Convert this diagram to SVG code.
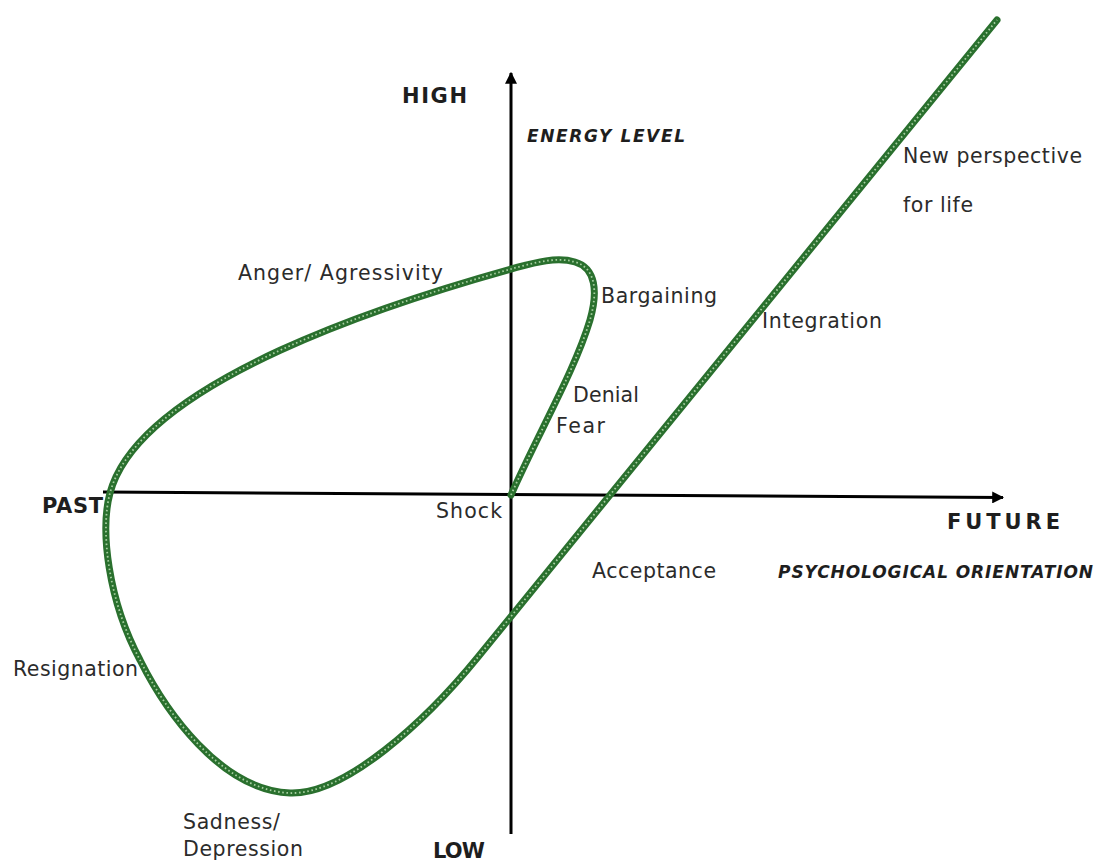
<svg xmlns="http://www.w3.org/2000/svg" width="1095" height="861" viewBox="0 0 1095 861">
  <style>
    .lbl { font-family: "DejaVu Sans", Verdana, sans-serif; font-size: 20.5px; fill: #2b2b2b; }
    .axis-lbl { font-family: "DejaVu Sans", Verdana, sans-serif; font-size: 21px; font-weight: bold; fill: #1e1e1e; }
    .axis-title { font-family: "DejaVu Sans", Verdana, sans-serif; font-size: 17px; font-weight: bold; font-style: italic; fill: #1e1e1e; }
    .axis { stroke: #000; stroke-width: 3; fill: none; }
    .curve-base { stroke: #2a702e; stroke-width: 7; fill: none; stroke-linecap: round; stroke-linejoin: round; }
    .curve-dots { stroke: #a6cfa0; stroke-width: 1.8; fill: none; stroke-dasharray: 1.6 2.6; }
  </style>
  <defs>
    <marker id="arrow" viewBox="0 0 10 10" refX="9" refY="5" markerWidth="4" markerHeight="4" orient="auto" markerUnits="strokeWidth">
      <path d="M0,0 L10,5 L0,10 Z" fill="#000"/>
    </marker>
  </defs>
  <rect width="1095" height="861" fill="#fff"/>

  <!-- axes -->
  <g id="connectors">
    <line id="energy-axis" class="axis" x1="511" y1="834" x2="511" y2="73" marker-end="url(#arrow)"/>
    <line id="orientation-axis" class="axis" x1="103" y1="492" x2="1003" y2="497.5" marker-end="url(#arrow)"/>
  </g>

  <!-- grief curve: shock, up through denial/bargaining, loop back via anger and depression, then out to the future -->
  <g id="curve">
    <path id="curve-path" class="curve-base" d="M511,495 C540,430 575,370 590,320 C598,292 596,268 575,262 C555,256 530,264 511,269 C400,300 140,380 110,493 C100,530 108,600 140,660 C165,710 220,790 290,793 C345,795 425,722 478,657 L997,20"/>
    <path class="curve-dots" d="M511,495 C540,430 575,370 590,320 C598,292 596,268 575,262 C555,256 530,264 511,269 C400,300 140,380 110,493 C100,530 108,600 140,660 C165,710 220,790 290,793 C345,795 425,722 478,657 L997,20"/>
  </g>

  <!-- axis labels -->
  <g id="axis-labels">
    <text id="high" class="axis-lbl" x="402" y="103" textLength="65" lengthAdjust="spacing">HIGH</text>
    <text id="energy-level" class="axis-title" x="527" y="142" textLength="158" lengthAdjust="spacing">ENERGY LEVEL</text>
    <text id="past" class="axis-lbl" x="42" y="513" textLength="61" lengthAdjust="spacing">PAST</text>
    <text id="future" class="axis-lbl" x="947" y="529" font-size="23" textLength="113" lengthAdjust="spacing">FUTURE</text>
    <text id="psych-orientation" class="axis-title" x="778" y="578" textLength="315" lengthAdjust="spacing">PSYCHOLOGICAL ORIENTATION</text>
    <text id="low" class="axis-lbl" x="433" y="858" textLength="52" lengthAdjust="spacing">LOW</text>
  </g>

  <!-- stage labels -->
  <g id="stage-labels">
    <text id="shock" class="lbl" x="436" y="518" textLength="66" lengthAdjust="spacing">Shock</text>
    <text id="fear" class="lbl" x="556" y="433" textLength="49" lengthAdjust="spacing">Fear</text>
    <text id="denial" class="lbl" x="573" y="402" textLength="66" lengthAdjust="spacing">Denial</text>
    <text id="bargaining" class="lbl" x="601" y="303" textLength="116" lengthAdjust="spacing">Bargaining</text>
    <text id="anger" class="lbl" x="238" y="280" textLength="205" lengthAdjust="spacing">Anger/ Agressivity</text>
    <text id="resignation" class="lbl" x="13" y="676" textLength="125" lengthAdjust="spacing">Resignation</text>
    <text id="sadness" class="lbl" x="183" y="829" textLength="97" lengthAdjust="spacing">Sadness/</text>
    <text id="depression" class="lbl" x="183" y="856" textLength="120" lengthAdjust="spacing">Depression</text>
    <text id="acceptance" class="lbl" x="592" y="578" textLength="124" lengthAdjust="spacing">Acceptance</text>
    <text id="integration" class="lbl" x="762" y="328" textLength="120" lengthAdjust="spacing">Integration</text>
    <text id="new-perspective" class="lbl" x="903" y="163" textLength="179" lengthAdjust="spacing">New perspective</text>
    <text id="for-life" class="lbl" x="903" y="212" textLength="70" lengthAdjust="spacing">for life</text>
  </g>
</svg>
